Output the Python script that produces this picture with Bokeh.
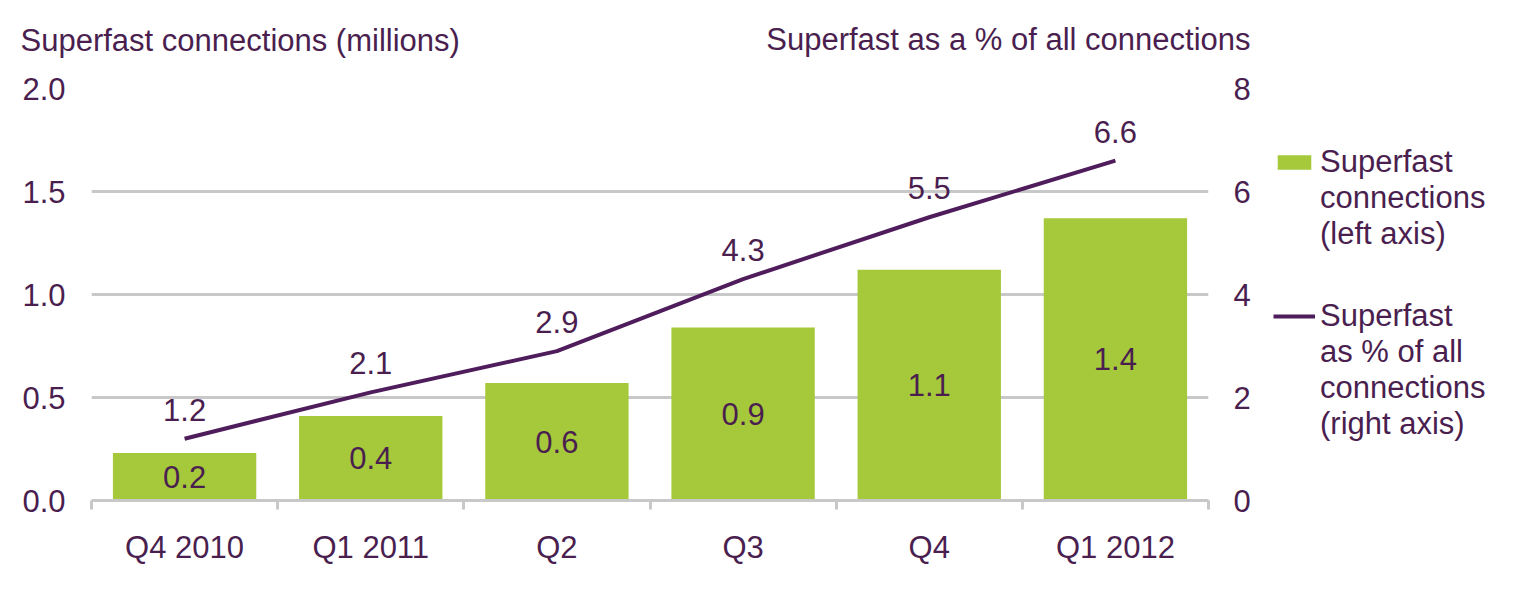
from bokeh.plotting import figure
from bokeh.layouts import row
from bokeh.models import (ColumnDataSource, Range1d, LinearAxis, FixedTicker,
                          Label, Legend, LegendItem)
from bokeh.core.properties import value
from bokeh.embed import file_html
from bokeh.resources import INLINE

# data
quarters = ["Q4 2010", "Q1 2011", "Q2", "Q3", "Q4", "Q1 2012"]
connections = [0.23, 0.41, 0.57, 0.84, 1.12, 1.37]
connection_labels = ["0.2", "0.4", "0.6", "0.9", "1.1", "1.4"]
share_pct = [1.2, 2.1, 2.9, 4.3, 5.5, 6.6]
share_labels = ["1.2", "2.1", "2.9", "4.3", "5.5", "6.6"]

FONT = "Liberation Sans"
TXT = "#4a1f4f"
PURPLE = "#4f1c5c"
GREEN = "#a5c93a"
GRID = "#c8c8c8"
FS = "31px"

xs = [i + 0.5 for i in range(len(quarters))]
src = ColumnDataSource(dict(x=xs, top=connections, mid=[v / 2 for v in connections],
                            lab=connection_labels, pct=share_pct, plab=share_labels))

p = figure(width=1265, height=580, output_backend="svg", toolbar_location=None,
           x_range=Range1d(0, len(quarters)), y_range=Range1d(0, 2.0),
           min_border_left=91, min_border_right=57, min_border_top=88, min_border_bottom=80)
p.outline_line_color = None
p.extra_y_ranges = {"pct": Range1d(0, 8)}

bars = p.vbar(x="x", top="top", width=0.77, source=src, color=GREEN, line_color=None)
line = p.line(x="x", y="pct", source=src, y_range_name="pct", line_color=PURPLE, line_width=4)

p.text(x="x", y="mid", text="lab", source=src, text_align="center", text_baseline="middle",
       text_font=value(FONT), text_font_size=FS, text_color=TXT)
p.text(x="x", y="pct", text="plab", source=src, y_range_name="pct", y_offset=-29,
       text_align="center", text_baseline="middle",
       text_font=value(FONT), text_font_size=FS, text_color=TXT)

# axes
p.xaxis.ticker = FixedTicker(ticks=xs, minor_ticks=list(range(len(quarters) + 1)))
p.xaxis.major_label_overrides = {x: q for x, q in zip(xs, quarters)}
p.xaxis.major_tick_out = 0
p.xaxis.major_tick_in = 0
p.xaxis.minor_tick_out = 9
p.xaxis.minor_tick_in = 0
p.xaxis.minor_tick_line_color = GRID
p.xaxis.minor_tick_line_width = 3
p.xaxis.axis_line_color = GRID
p.xaxis.axis_line_width = 3
p.xaxis.major_label_standoff = 20
p.xgrid.visible = False

p.yaxis.ticker = FixedTicker(ticks=[0, 0.5, 1.0, 1.5, 2.0])
p.yaxis.major_label_overrides = {0: "0.0", 0.5: "0.5", 1.0: "1.0", 1.5: "1.5", 2.0: "2.0"}
p.ygrid.ticker = FixedTicker(ticks=[0.5, 1.0, 1.5, 2.0])
p.ygrid.grid_line_color = GRID
p.ygrid.grid_line_width = 3

right = LinearAxis(y_range_name="pct", ticker=FixedTicker(ticks=[0, 2, 4, 6, 8]))
p.add_layout(right, "right")

p.yaxis[0].major_label_standoff = 20
right.major_label_standoff = 19
for ax in [p.yaxis[0], right]:
    ax.axis_line_color = None
    ax.major_tick_line_color = None
    ax.minor_tick_line_color = None
for ax in [p.xaxis[0], p.yaxis[0], right]:
    ax.major_label_text_font = FONT
    ax.major_label_text_font_size = FS
    ax.major_label_text_color = TXT

# axis titles (labels in the "above" panel stack, so the second one is lowered)
p.add_layout(Label(x=-71, y=48, x_units="screen", y_units="screen",
                   text="Superfast connections (millions)", text_baseline="middle",
                   text_font=FONT, text_font_size=FS, text_color=TXT), "above")
p.add_layout(Label(x=1159, y=14, x_units="screen", y_units="screen",
                   text="Superfast as a % of all connections", text_align="right",
                   text_baseline="middle",
                   text_font=FONT, text_font_size=FS, text_color=TXT), "above")

# legend, in its own small panel at the right (same borders so the frames line up)
q = figure(width=254, height=580, output_backend="svg", toolbar_location=None,
           x_range=Range1d(0, 1), y_range=Range1d(0, 1),
           x_axis_location=None, y_axis_location=None,
           min_border_left=0, min_border_top=88, min_border_right=0, min_border_bottom=80)
q.outline_line_color = None
q.grid.visible = False
# keys drawn outside the visible range, only used for the legend swatches
key_bar = q.vbar(x=[10], top=[10], width=0.5, color=GREEN, line_color=None)
key_line = q.line(x=[10, 11], y=[10, 10], line_color=PURPLE, line_width=4)
key_none = q.vbar(x=[10], top=[10], width=0.5, fill_alpha=0, line_alpha=0)

# the swatch sits beside the first line only, so each entry is split in two
legend_items = [
    [LegendItem(label="Superfast", renderers=[key_bar]),
     LegendItem(label="connections\n(left axis)", renderers=[key_none])],
    [LegendItem(label="Superfast", renderers=[key_line]),
     LegendItem(label="as % of all\nconnections\n(right axis)", renderers=[key_none])],
]
for items, loc in zip(legend_items, [(8, 248), (8, 58)]):
    legend = Legend(items=items, location=loc)
    legend.label_text_font = FONT
    legend.label_text_font_size = FS
    legend.label_text_color = TXT
    legend.label_text_line_height = 1.12
    legend.glyph_width = 42
    legend.glyph_height = 18
    legend.label_standoff = 5
    legend.spacing = 0
    legend.border_line_color = None
    legend.background_fill_alpha = 0
    legend.padding = 0
    legend.margin = 0
    q.add_layout(legend)

open("out.html", "w").write(file_html(row(p, q), INLINE))
